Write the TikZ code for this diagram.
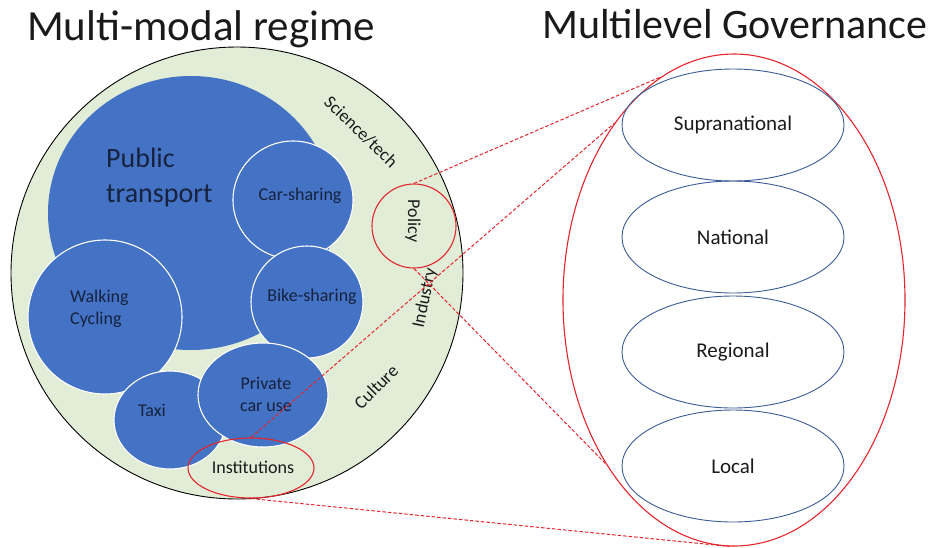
\documentclass[tikz,border=0pt]{standalone}
\usepackage{fontspec}
\setmainfont{Carlito}
\usetikzlibrary{shapes.geometric}
\definecolor{regime}{HTML}{E2EDD8}
\definecolor{modeblue}{HTML}{4472C4}
\definecolor{navy}{HTML}{16223E}
\definecolor{redline}{HTML}{E4262C}
\definecolor{govblue}{HTML}{3B5A98}
\definecolor{ink}{HTML}{1A1A1A}
\begin{document}
\begin{tikzpicture}[x=1pt,y=-1pt,
  mode/.style={ellipse, fill=modeblue, draw=white, line width=1.1pt, inner sep=0pt},
  modetext/.style={text=navy, font=\fontsize{18}{22}\selectfont, align=center, inner sep=0pt},
  ringtext/.style={text=ink, font=\fontsize{18}{22}\selectfont, inner sep=0pt},
  redring/.style={ellipse, draw=redline, line width=1.1pt, inner sep=0pt},
  level/.style={ellipse, draw=govblue, line width=0.9pt, inner sep=0pt, minimum width=222pt, minimum height=112pt, text=ink, font=\fontsize{21}{24}\selectfont},
  zoomline/.style={draw=redline, line width=1pt, dash pattern=on 3.5pt off 2pt},
  titletext/.style={text=ink, font=\fontsize{42}{46}\selectfont, inner sep=0pt, anchor=base west}]
\useasboundingbox (0,0) rectangle (940,547);

% titles
\node[titletext, font=\fontsize{43}{46}\selectfont] (t1) at (27,40) {Multi-modal regime};
\node[titletext] (t2) at (542,38) {Multilevel Governance};

% regime circle
\node[circle, fill=regime, draw=black, line width=0.9pt, minimum size=452pt, inner sep=0pt] (regime) at (237,273) {};

% modes
\node[ellipse, fill=modeblue, inner sep=0pt, minimum width=286pt, minimum height=274pt] (pt) at (191,213) {};
\node[mode, minimum width=154pt, minimum height=154pt] (walk) at (105,317) {};
\node[mode, minimum width=120pt, minimum height=118pt] (car) at (293,200) {};
\node[mode, minimum width=112pt, minimum height=112pt] (bike) at (307,302) {};
\node[mode, minimum width=112pt, minimum height=98pt] (taxi) at (170,420) {};
\node[mode, minimum width=130pt, minimum height=104pt] (private) at (263,395) {};

\node[modetext, font=\fontsize{28}{35}\selectfont, anchor=base west] (ptA) at (106,167) {Public};
\node[modetext, font=\fontsize{28}{35}\selectfont, anchor=base west] (ptB) at (106,202) {transport};
\node[modetext] (carT) at (300,196) {Car-sharing};
\node[modetext] (bikeT) at (312,297) {Bike-sharing};
\node[modetext, align=left, anchor=west] (walkT) at (70,309) {Walking\\Cycling};
\node[modetext] (taxiT) at (152,410) {Taxi};
\node[modetext] (privT) at (266,394) {Private\\car use};

% ring labels
\node[ringtext, rotate=-44] (sci) at (361,132) {Science/tech};
\node[ringtext, rotate=-90] (polT) at (413,221) {Policy};
\node[ringtext, rotate=78] (ind) at (425,298) {Industry};
\node[ringtext, rotate=45] (cult) at (376,387) {Culture};

% highlighted
\node[redring, minimum width=84pt, minimum height=84pt] (policy) at (414,226) {};
\node[redring, minimum width=126pt, minimum height=60pt] (inst) at (251,468) {};
\node[ringtext] (instT) at (253,467) {Institutions};

% governance
\node[redring, minimum width=342pt, minimum height=492pt] (mlg) at (734,300) {};
\node[level] (supra) at (733,125) {Supranational};
\node[level] (nat) at (733,237) {National};
\node[level] (reg) at (733,352) {Regional};
\node[level] (loc) at (733,466) {Local};

% zoom lines
\draw[zoomline] (policy.north) -- (mlg.108);
\draw[zoomline] (inst.north) -- (mlg.124.5);
\draw[zoomline] (policy.south) -- (mlg.232);
\draw[zoomline] (inst.south) -- (mlg.269);
\end{tikzpicture}
\end{document}
